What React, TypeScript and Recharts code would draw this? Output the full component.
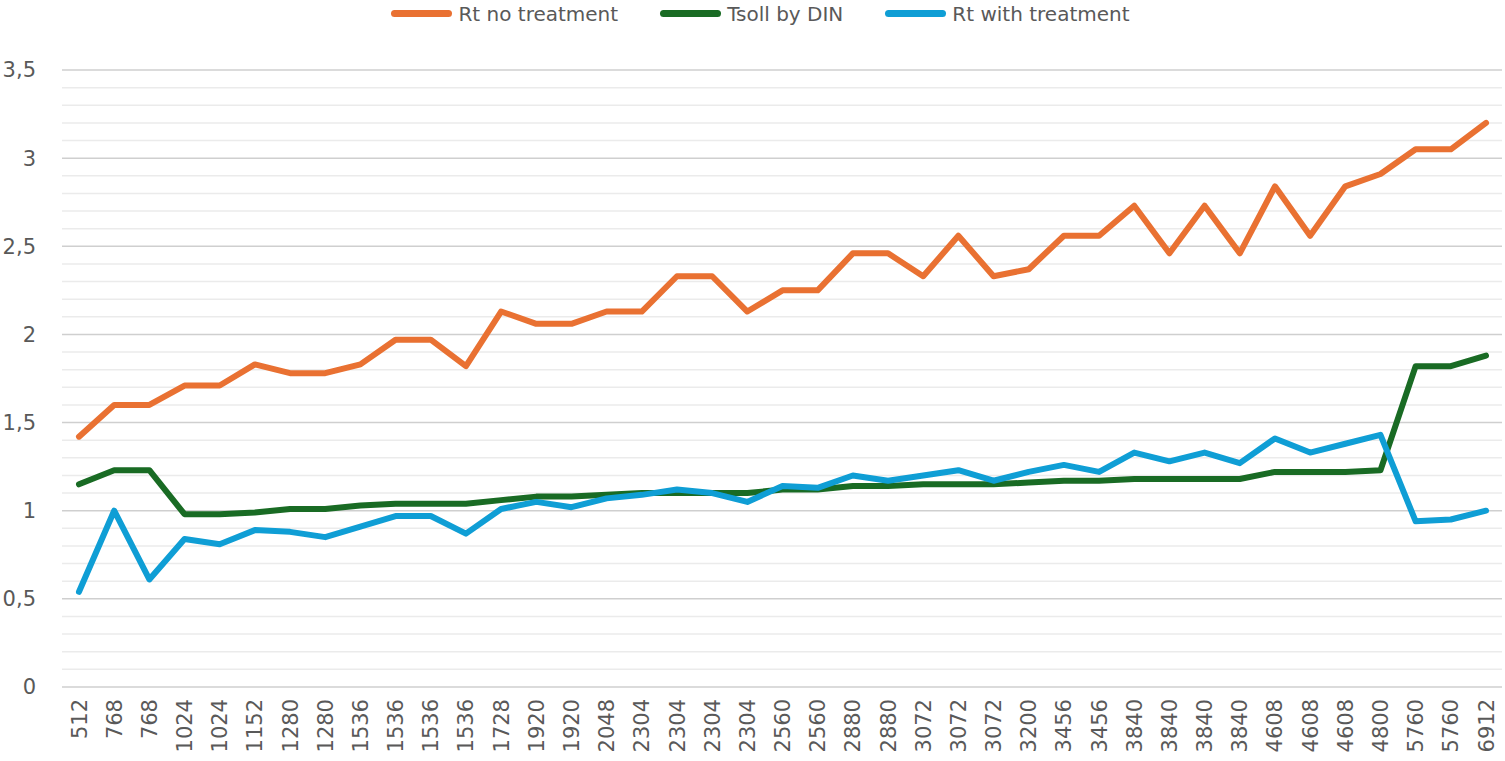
import React from "react";
import { LineChart, Line, XAxis, YAxis, CartesianGrid, ReferenceLine } from "recharts";

const categories = [
  "512", "768", "768", "1024", "1024", "1152", "1280", "1280", "1536", "1536", "1536",
  "1536", "1728", "1920", "1920", "2048", "2304", "2304", "2304", "2304", "2560",
  "2560", "2880", "2880", "3072", "3072", "3072", "3200", "3456", "3456", "3840",
  "3840", "3840", "3840", "4608", "4608", "4608", "4800", "5760", "5760", "6912",
];

const rtNoTreatment = [
  1.42, 1.6, 1.6, 1.71, 1.71, 1.83, 1.78, 1.78, 1.83, 1.97, 1.97,
  1.82, 2.13, 2.06, 2.06, 2.13, 2.13, 2.33, 2.33, 2.13, 2.25,
  2.25, 2.46, 2.46, 2.33, 2.56, 2.33, 2.37, 2.56, 2.56, 2.73,
  2.46, 2.73, 2.46, 2.84, 2.56, 2.84, 2.91, 3.05, 3.05, 3.2,
];

const tsollByDin = [
  1.15, 1.23, 1.23, 0.98, 0.98, 0.99, 1.01, 1.01, 1.03, 1.04, 1.04,
  1.04, 1.06, 1.08, 1.08, 1.09, 1.1, 1.1, 1.1, 1.1, 1.12,
  1.12, 1.14, 1.14, 1.15, 1.15, 1.15, 1.16, 1.17, 1.17, 1.18,
  1.18, 1.18, 1.18, 1.22, 1.22, 1.22, 1.23, 1.82, 1.82, 1.88,
];

const rtWithTreatment = [
  0.54, 1.0, 0.61, 0.84, 0.81, 0.89, 0.88, 0.85, 0.91, 0.97, 0.97,
  0.87, 1.01, 1.05, 1.02, 1.07, 1.09, 1.12, 1.1, 1.05, 1.14,
  1.13, 1.2, 1.17, 1.2, 1.23, 1.17, 1.22, 1.26, 1.22, 1.33,
  1.28, 1.33, 1.27, 1.41, 1.33, 1.38, 1.43, 0.94, 0.95, 1.0,
];

const majorTicks = [0, 0.5, 1, 1.5, 2, 2.5, 3, 3.5];
const minorTicks = [
  0.1, 0.2, 0.3, 0.4, 0.6, 0.7, 0.8, 0.9, 1.1, 1.2, 1.3, 1.4, 1.6, 1.7, 1.8, 1.9,
  2.1, 2.2, 2.3, 2.4, 2.6, 2.7, 2.8, 2.9, 3.1, 3.2, 3.3, 3.4,
];

const series = [
  { key: "rtNo", name: "Rt no treatment", color: "#E97132" },
  { key: "tsoll", name: "Tsoll by DIN", color: "#196B24" },
  { key: "rtWith", name: "Rt with treatment", color: "#0F9ED5" },
];

const data = categories.map((c, i) => ({
  label: c,
  rtNo: rtNoTreatment[i],
  tsoll: tsollByDin[i],
  rtWith: rtWithTreatment[i],
}));

const FONT = "'DejaVu Sans', sans-serif";
const TEXT = "#595959";

const XTick = (props: any) => {
  const { x, y, payload } = props;
  const ty = y + 12;
  return (
    <text
      x={x}
      y={ty}
      transform={`rotate(-90, ${x}, ${ty})`}
      textAnchor="end"
      dy="0.36em"
      fill={TEXT}
      fontSize={21}
      fontFamily={FONT}
    >
      {payload.value}
    </text>
  );
};

export default function App() {
  return (
    <div style={{ position: "absolute", left: 0, top: 0, width: 1505, height: 761, background: "#fff" }}>
      <div
        style={{
          position: "absolute",
          left: 8,
          top: 0,
          width: 1505,
          height: 27,
          display: "flex",
          justifyContent: "center",
          alignItems: "center",
          gap: 42,
          fontFamily: FONT,
          fontSize: 20,
          color: TEXT,
        }}
      >
        {series.map((s) => (
          <div key={s.key} style={{ display: "flex", alignItems: "center" }}>
            <span
              style={{
                display: "inline-block",
                width: 61,
                height: 7,
                borderRadius: 4,
                background: s.color,
                marginRight: 6,
              }}
            />
            <span>{s.name}</span>
          </div>
        ))}
      </div>
      <LineChart
        width={1505}
        height={761}
        data={data}
        margin={{ top: 70, right: 3, bottom: 0, left: 0 }}
      >
        {minorTicks.map((v) => (
          <ReferenceLine key={"m" + v} y={v} stroke="#EBEBEB" strokeWidth={1.5} ifOverflow="visible" />
        ))}
        <CartesianGrid vertical={false} stroke="#CFCFCF" strokeWidth={1.5} />
        <XAxis
          dataKey="label"
          interval={0}
          axisLine={false}
          tickLine={false}
          tickSize={0}
          tickMargin={0}
          height={74}
          padding={{ left: 17, right: 16 }}
          tick={<XTick />}
        />
        <YAxis
          domain={[0, 3.5]}
          ticks={majorTicks}
          width={62}
          axisLine={false}
          tickLine={false}
          tickSize={0}
          tickMargin={26}
          tickFormatter={(v: number) => String(v).replace(".", ",")}
          tick={{ fill: TEXT, fontSize: 21, fontFamily: FONT }}
        />
        {series.map((s) => (
          <Line
            key={s.key}
            type="linear"
            dataKey={s.key}
            name={s.name}
            stroke={s.color}
            strokeWidth={6}
            strokeLinejoin="round"
            strokeLinecap="round"
            dot={false}
            activeDot={false}
            isAnimationActive={false}
          />
        ))}
      </LineChart>
    </div>
  );
}
